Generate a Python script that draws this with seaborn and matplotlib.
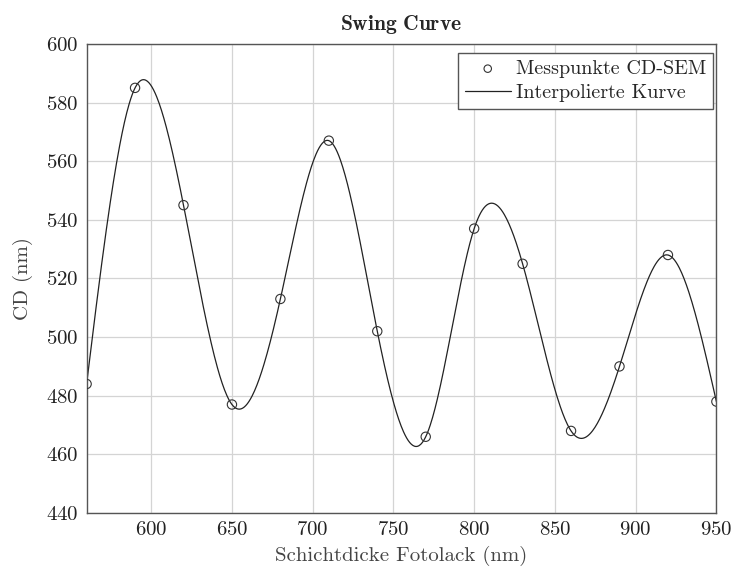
import numpy as np
import pandas as pd
import seaborn as sns
import matplotlib.pyplot as plt

# measured CD-SEM points
thickness = [560, 590, 620, 650, 680, 710, 740, 770, 800, 830, 860, 890, 920, 950]
cd_values = [484, 585, 545, 477, 513, 567, 502, 466, 537, 525, 468, 490, 528, 478]
x_ticks = [600, 650, 700, 750, 800, 850, 900, 950]
y_ticks = [440, 460, 480, 500, 520, 540, 560, 580, 600]


def cubic_spline(x, y, xs):
    # natural cubic spline through the measured points
    x = np.asarray(x, float)
    y = np.asarray(y, float)
    n = len(x)
    h = np.diff(x)
    A = np.zeros((n, n))
    b = np.zeros(n)
    A[0, 0] = A[-1, -1] = 1
    for i in range(1, n - 1):
        A[i, i - 1] = h[i - 1]
        A[i, i] = 2 * (h[i - 1] + h[i])
        A[i, i + 1] = h[i]
        b[i] = 3 * ((y[i + 1] - y[i]) / h[i] - (y[i] - y[i - 1]) / h[i - 1])
    c = np.linalg.solve(A, b)
    idx = np.clip(np.searchsorted(x, xs) - 1, 0, n - 2)
    dx = xs - x[idx]
    hi = h[idx]
    bb = (y[idx + 1] - y[idx]) / hi - hi * (2 * c[idx] + c[idx + 1]) / 3
    dd = (c[idx + 1] - c[idx]) / (3 * hi)
    return y[idx] + bb * dx + c[idx] * dx ** 2 + dd * dx ** 3


xs = np.linspace(thickness[0], thickness[-1], 800)
curve = pd.DataFrame({"x": xs, "cd": cubic_spline(thickness, cd_values, xs)})
points = pd.DataFrame({"x": thickness, "cd": cd_values})

sns.set_style("whitegrid")
plt.rcParams["font.family"] = "serif"
plt.rcParams["font.serif"] = ["cmr10", "DejaVu Serif"]
plt.rcParams["mathtext.fontset"] = "cm"
plt.rcParams["axes.formatter.use_mathtext"] = True

fig, ax = plt.subplots(figsize=(7.34, 5.70), dpi=100)
fig.subplots_adjust(left=0.118, right=0.976, top=0.923, bottom=0.1)

sns.scatterplot(data=points, x="x", y="cd", ax=ax, marker="o", s=45,
                facecolor="none", edgecolor="#333333", linewidth=0.8,
                label="Messpunkte CD-SEM", zorder=3)
sns.lineplot(data=curve, x="x", y="cd", ax=ax, color="#222222",
             linewidth=0.9, label="Interpolierte Kurve", zorder=2)

ax.set_xlim(560, 950)
ax.set_ylim(440, 600)
ax.set_xticks(x_ticks)
ax.set_yticks(y_ticks)
ax.grid(True, color="#d4d4d4", linewidth=0.9)
for sp in ax.spines.values():
    sp.set_color("#555555")
    sp.set_linewidth(1.0)
ax.tick_params(labelsize=15, length=0, pad=6, colors="#222222")

ax.set_xlabel("Schichtdicke Fotolack (nm)", fontsize=15, color="#444444",
              labelpad=5)
ax.set_ylabel("CD (nm)", fontsize=15, color="#444444", labelpad=9)
ax.set_title(r"$\mathbf{Swing\ Curve}$", fontsize=15.5, pad=10)

leg = ax.legend(loc="upper right", bbox_to_anchor=(0.995, 0.981),
                fontsize=14.5, frameon=True, fancybox=False,
                edgecolor="#555555", framealpha=1, handlelength=2.3,
                borderpad=0.35, labelspacing=0.3, handletextpad=0.25,
                borderaxespad=0, markerscale=0.8)
leg.get_frame().set_linewidth(1.0)

fig.savefig("out.png", dpi=100)
